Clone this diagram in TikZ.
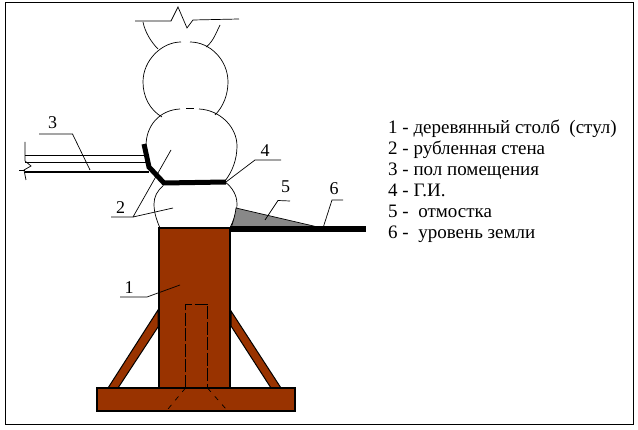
\documentclass[tikz,border=0pt]{standalone}
\usepackage{fontspec}
\setmainfont{Liberation Serif}
\definecolor{postbrown}{RGB}{153,51,0}
\definecolor{blindgray}{RGB}{136,136,136}
\tikzset{
  thin line/.style={line width=0.7pt},
  post line/.style={fill=postbrown, draw=black, line width=1.6pt},
  brace line/.style={fill=postbrown, draw=black, line width=1pt},
  hidden line/.style={line width=0.7pt, dash pattern=on 13pt off 2.5pt},
  lbl/.style={font=\fontsize{18}{18}\selectfont, inner sep=0pt},
  legend/.style={font=\fontsize{19}{19}\selectfont, inner sep=0pt, anchor=base west},
}
\begin{document}
\begin{tikzpicture}[x=1pt,y=-1pt]
\useasboundingbox (0,0) rectangle (638,430);
\draw[thin line] (5.5,2.5) rectangle (633.5,424);
% logs
\draw[thin line] (181,42) .. controls (162,42) and (143,60) .. (143,82) .. controls (143,97) and (150,110) .. (162,117);
\draw[thin line] (190,42) .. controls (210,42) and (228,60) .. (228,82) .. controls (228,95) and (223,107) .. (215,115);
\draw[thin line] (180,109) .. controls (160,110) and (146,125) .. (146,146);
\draw[thin line] (186,108) -- (194,108);
\draw[thin line] (199,109) .. controls (220,110) and (237,127) .. (237,146) .. controls (237,160) and (232,172) .. (225,181);
\draw[thin line] (163,186) .. controls (157,191) and (154,197) .. (154,204) .. controls (154,213) and (157,221) .. (160,228);
\draw[thin line] (225,182) .. controls (232,187) and (237,195) .. (237,204) .. controls (237,213) and (233,221) .. (230,228);
% upper cut
\draw[thin line] (135,21) -- (171,21) -- (178,7) -- (187,28) -- (193,20) -- (239,19);
\draw[thin line] (143,22) .. controls (145,32) and (151,42) .. (158,49);
\draw[thin line] (220,25) .. controls (216,33) and (213,42) .. (206,47);
% floor
\draw[thin line] (25,155) -- (148,155);
\draw[thin line] (25,162) -- (148,162);
\draw[thin line] (25,142) -- (25,161) -- (31,166) -- (24,170) -- (26,180);
\draw[thin line] (19,170) -- (25,170);
\draw[line width=2pt] (25,172) -- (149,172);
% blind area
\filldraw[fill=blindgray, draw=black, line width=0.7pt] (236,208) -- (322,228) -- (231,228) .. controls (233,222) and (235,216) .. (236,208) -- cycle;
\draw[line width=6pt] (230,229.5) -- (366,229.5);
% post
\filldraw[post line] (159,228) rectangle (230,388);
\filldraw[brace line] (158,310) -- (108,388) -- (118,388) -- (158,327) -- cycle;
\filldraw[brace line] (231,311) -- (281,388) -- (271,388) -- (231,326) -- cycle;
\filldraw[post line] (97,388) rectangle (295,411);
\draw[hidden line] (185.5,388) -- (185.5,304) -- (207.5,304) -- (207.5,388);
\draw[hidden line, dash pattern=on 5pt off 6pt] (185.5,388) -- (168,409);
\draw[hidden line, dash pattern=on 5pt off 6pt] (207.5,388) -- (226,409);
% hydro insulation
\draw[line width=5pt, line join=miter] (144,144) -- (149,167) -- (164,183) -- (226,182);
% leaders
\draw[thin line] (39,134) -- (72.5,134) -- (90,170);
\node[lbl] (n3) at (52.5,122.5) {3};
\draw[thin line] (111,217) -- (133,217) -- (171,150);
\draw[thin line] (133,217) -- (173,208);
\node[lbl] (n2) at (120.5,208) {2};
\draw[thin line] (226,182) -- (255,160) -- (281,160);
\node[lbl] (n4) at (265,150.5) {4};
\draw[thin line] (265,220) -- (278,200.5) -- (290,201);
\node[lbl] (n5) at (285.5,187) {5};
\draw[thin line] (323,228) -- (332,200) -- (343,200);
\node[lbl] (n6) at (334,189) {6};
\draw[thin line] (120,297) -- (147,297) -- (180,285);
\node[lbl] (n1) at (129,288) {1};
% legend
\node[legend] (t1) at (388,134) {1 - деревянный столб\ \ (стул)};
\node[legend] (t2) at (388,155) {2 - рубленная стена};
\node[legend] (t3) at (388,176) {3 - пол помещения};
\node[legend] (t4) at (388,197) {4 - Г.И.};
\node[legend] (t5) at (388,218) {5 -\ \ отмостка};
\node[legend] (t6) at (388,239) {6 -\ \ уровень земли};
\end{tikzpicture}
\end{document}
